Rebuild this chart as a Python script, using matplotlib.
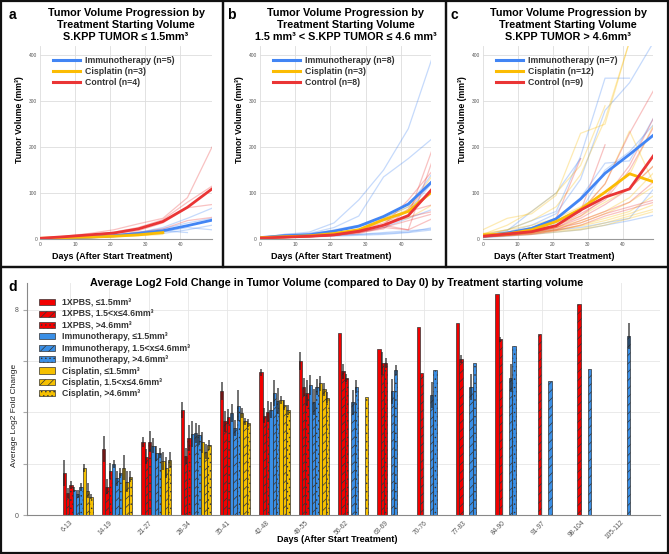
import numpy as np
import matplotlib
matplotlib.use("Agg")
import matplotlib.pyplot as plt
from matplotlib.patches import Rectangle, Patch
from matplotlib.lines import Line2D

nan = np.nan
plt.rcParams['font.family'] = ['Liberation Sans', 'DejaVu Sans']
plt.rcParams['hatch.linewidth'] = 0.5

# === Top panels: tumour volume per mouse (mm3) ===
days = [0, 7, 14, 21, 28, 35, 42, 49]

a_blue_lines = [[1, 2, 4, 8, 14, 25, 45, 67], [1, 2, 5, 9, 15, 22, 35, 45],
                [1, 1, 3, 5, 8, 12, 20, 30], [1, 2, 4, 7, 12, 18, 14, nan],
                [1, 2, 3, 6, 10, 15, 25, 20]]
a_yellow_lines = [[1, 3, 5, 8, 12, 18, nan, nan], [2, 3, 4, 6, 9, 15, nan, nan],
                  [1, 2, 3, 5, 7, 10, nan, nan]]
a_red_lines = [[1, 6, 12, 20, 33, 45, 90, 200], [1, 5, 9, 15, 25, 42, 80, 115],
               [2, 5, 8, 12, 18, 35, 68, 75], [1, 3, 6, 9, 14, 22, 40, 47]]
a_blue_mean = [1, 2, 4, 7, 12, 18, 29, 41]
a_yellow_mean = [1.5, 3, 4, 6, 9, 14, nan, nan]
a_red_mean = [1.5, 5, 9, 13, 22, 38, 69, 109]

b_blue_lines = [[3, 10, 15, 35, 85, 150, 240, 400], [3, 10, 12, 25, 50, 135, 175, 220],
                [2, 8, 10, 20, 30, 45, 70, 145], [3, 8, 12, 18, 28, 40, 60, 125],
                [2, 5, 8, 12, 15, 25, 45, 65], [2, 4, 6, 8, 10, 12, 15, 25],
                [2, 3, 5, 6, 8, 10, 14, 20], [3, 5, 6, 8, 10, 14, 18, 22]]
b_yellow_lines = [[3, 5, 8, 12, 20, 40, 65, 140], [2, 5, 7, 12, 22, 45, 70, 100],
                  [3, 5, 6, 10, 18, 40, 45, 75]]
b_red_lines = [[2, 4, 6, 9, 18, 30, 50, 200], [2, 3, 5, 8, 15, 25, 20, 175],
               [1, 3, 5, 8, 15, 30, 85, 150], [2, 4, 6, 10, 20, 35, 60, 75],
               [2, 3, 5, 8, 14, 28, 48, 60], [1, 3, 4, 7, 12, 25, 40, 55],
               [2, 4, 6, 9, 16, 30, 20, 45], [1, 3, 5, 8, 14, 22, 65, 130]]
b_blue_mean = [3, 7, 9, 17, 28, 49, 76, 127]
b_yellow_mean = [3, 5, 7, 12, 20, 42, 60, 105]
b_red_mean = [2, 4, 6, 9, 17, 30, 51, 111]

c_blue_lines = [[8, 20, 40, 60, 180, 350, 350, nan], [6, 15, 30, 55, 130, 280, 340, 430],
                [5, 18, 60, 100, 175, nan, nan, nan], [6, 12, 25, 45, 90, 165, 170, 265],
                [5, 10, 20, 35, 60, 150, 190, 250], [4, 8, 14, 20, 25, 35, 45, 110],
                [3, 6, 10, 15, 20, 30, 40, 52]]
c_yellow_lines = [[20, 45, 55, 95, 230, 250, 430, nan], [10, 30, 60, 100, 160, 290, nan, nan],
                  [12, 20, 40, 70, 140, 260, 430, nan], [8, 15, 25, 40, 60, 120, 235, 120],
                  [10, 20, 30, 45, 70, 100, 140, 250], [6, 12, 20, 30, 50, 80, 110, 160],
                  [8, 10, 15, 25, 40, 60, 90, 145], [5, 10, 15, 25, 35, 55, 80, 115],
                  [5, 8, 12, 20, 30, 45, 60, 95], [6, 10, 14, 20, 28, 40, 55, 75],
                  [4, 8, 12, 18, 22, 35, 50, 65], [5, 7, 10, 15, 20, 30, 45, 60]]
c_red_lines = [[5, 12, 20, 30, 60, 205, nan, nan], [6, 10, 18, 30, 60, 120, 230, 325],
               [5, 9, 15, 25, 50, 90, 160, 265], [7, 12, 18, 28, 55, 85, 150, 245],
               [4, 8, 14, 25, 45, 75, 110, 160], [5, 8, 12, 20, 40, 60, 80, 125],
               [6, 10, 15, 22, 35, 55, 70, 85], [4, 7, 10, 18, 30, 50, 65, 80],
               [6, 10, 20, 45, 175, nan, nan, nan]]
c_blue_mean = [6, 13, 23, 44, 87, 143, 184, 227]
c_yellow_mean = [9, 11, 20, 38, 65, 102, 142, 124]
c_red_mean = [6, 11, 16, 29, 63, 91, 109, 183]

panels = [
    ("a", "S.KPP TUMOR ≤ 1.5mm³", (5, 3, 4),
     a_blue_lines, a_yellow_lines, a_red_lines, a_blue_mean, a_yellow_mean, a_red_mean),
    ("b", "1.5 mm³ < S.KPP TUMOR ≤ 4.6 mm³", (8, 3, 8),
     b_blue_lines, b_yellow_lines, b_red_lines, b_blue_mean, b_yellow_mean, b_red_mean),
    ("c", "S.KPP TUMOR > 4.6mm³", (7, 12, 9),
     c_blue_lines, c_yellow_lines, c_red_lines, c_blue_mean, c_yellow_mean, c_red_mean),
]

# === Bottom panel: average log2 fold change ===
groups = ["6-13", "14-19", "21-27", "28-34", "35-41", "42-48", "49-55", "56-62",
          "63-69", "70-76", "77-83", "84-90", "91-97", "98-104", "105-112"]
bar_labels = ["1XPBS, ≤1.5mm³", "1XPBS, 1.5<x≤4.6mm³", "1XPBS, >4.6mm³",
              "Immunotherapy, ≤1.5mm³", "Immunotherapy, 1.5<x≤4.6mm³", "Immunotherapy, >4.6mm³",
              "Cisplatin, ≤1.5mm³", "Cisplatin, 1.5<x≤4.6mm³", "Cisplatin, >4.6mm³"]
pbs_lo = [1.65, 2.58, 2.86, 4.1, 4.82, 5.56, 6.02, 7.1, 6.48, 7.33, 7.49, 8.62, nan, nan, nan]
pbs_mid = [0.86, 1.1, 2.27, 2.3, 3.65, 3.88, 5.0, 5.6, 5.92, 5.53, 6.09, 6.86, 7.07, 8.23, nan]
pbs_hi = [1.17, 1.72, 2.86, 3.0, 3.84, 4.03, 4.75, 5.34, 5.92, nan, nan, nan, nan, nan, nan]
imm_lo = [0.99, 1.98, 2.7, 3.15, 3.97, 4.1, 5.07, nan, nan, nan, nan, nan, nan, nan, nan]
imm_mid = [0.83, 1.43, 2.41, 3.19, 3.39, 4.75, 4.4, 4.39, 4.82, 4.69, 4.99, 5.34, 5.21, 5.69, 6.99]
imm_hi = [1.09, 1.63, 2.43, 3.12, 4.26, 4.45, 5.0, 5.01, 5.66, 5.66, 5.92, 6.6, nan, nan, nan]
cis_lo = [1.82, 1.85, 2.1, 2.83, 3.97, 4.49, 5.14, nan, nan, nan, nan, nan, nan, nan, nan]
cis_mid = [0.95, 1.3, 1.85, 2.47, 3.65, 4.3, 4.91, nan, nan, nan, nan, nan, nan, nan, nan]
cis_hi = [0.71, 1.5, 2.15, 2.73, 3.6, 4.1, 4.58, 4.62, nan, nan, nan, nan, nan, nan, nan]

pbs_lo_err = [0.5, 0.5, 0.2, 0.3, 0.35, 0.15, 0.35, 0, 0, 0, 0, 0, 0, 0, 0]
pbs_mid_err = [0.2, 0.3, 0.3, 0.3, 0.4, 0.3, 0.35, 0.3, 0.45, 0, 0.15, 0.1, 0, 0, 0]
pbs_hi_err = [0.15, 0.3, 0.4, 0.5, 0.3, 0.4, 0.5, 0.15, 0.2, 0, 0, 0, 0, 0, 0]
imm_lo_err = [0.1, 0.15, 0.3, 0.5, 0.35, 0.3, 0.4, 0, 0, 0, 0, 0, 0, 0, 0]
imm_mid_err = [0.15, 0.3, 0.3, 0.4, 0.3, 0.5, 0.5, 0.5, 0.5, 0.5, 0.5, 0.55, 0, 0, 0.5]
imm_hi_err = [0.15, 0.2, 0.2, 0.4, 0.6, 0.5, 0.3, 0.25, 0.2, 0, 0, 0, 0, 0, 0]
cis_lo_err = [0.15, 0.5, 0.35, 0.4, 0.2, 0.15, 0.3, 0, 0, 0, 0, 0, 0, 0, 0]
cis_mid_err = [0.3, 0.4, 0.4, 0.3, 0.15, 0.2, 0.25, 0, 0, 0, 0, 0, 0, 0, 0]
cis_hi_err = [0.1, 0.2, 0.3, 0.2, 0.15, 0.2, 0.2, 0, 0, 0, 0, 0, 0, 0, 0]

bar_values = [pbs_lo, pbs_mid, pbs_hi, imm_lo, imm_mid, imm_hi, cis_lo, cis_mid, cis_hi]
bar_errors = [pbs_lo_err, pbs_mid_err, pbs_hi_err, imm_lo_err, imm_mid_err, imm_hi_err,
              cis_lo_err, cis_mid_err, cis_hi_err]

LINE_BLUE, LINE_YELLOW, LINE_RED = "#4285f4", "#fbbc04", "#ea3535"
BAR_RED, BAR_BLUE, BAR_YELLOW = "#f20000", "#3a8fe6", "#f5c000"
bar_colors = [BAR_RED] * 3 + [BAR_BLUE] * 3 + [BAR_YELLOW] * 3
bar_hatches = ["", "////", "...."] * 3

fig = plt.figure(figsize=(6.69, 5.54), dpi=100)
W, H = 669, 554

def fx(px):
    return px / W

def fy(py):
    return 1 - py / H

# panel borders
for x0, y0, x1, y1 in [(1, 1, 223, 267), (223, 1, 446, 267), (446, 1, 668, 267), (1, 267, 668, 553)]:
    fig.add_artist(Rectangle((fx(x0), fy(y1)), fx(x1 - x0), (y1 - y0) / H, transform=fig.transFigure,
                             fill=False, edgecolor="#111111", linewidth=1.6))

axes_left = [40, 259.7, 482.7]
axes_right = [212, 431.3, 653.3]
xmax = [49, 48.5, 48.8]
for i, (letter, sub, ns, bl, yl, rl, bm, ym, rm) in enumerate(panels):
    ax = fig.add_axes([fx(axes_left[i]), fy(239), fx(axes_right[i] - axes_left[i]), 193 / H])
    for line in bl:
        ax.plot(days, line, color=LINE_BLUE, alpha=0.3, linewidth=0.9)
    for line in yl:
        ax.plot(days, line, color=LINE_YELLOW, alpha=0.3, linewidth=0.9)
    for line in rl:
        ax.plot(days, line, color=LINE_RED, alpha=0.3, linewidth=0.9)
    ax.plot(days, bm, color=LINE_BLUE, linewidth=2.0)
    ax.plot(days, ym, color=LINE_YELLOW, linewidth=2.0)
    ax.plot(days, rm, color=LINE_RED, linewidth=2.0)
    ax.set_xlim(0, xmax[i])
    ax.set_ylim(0, 420)
    ax.set_xticks([0, 10, 20, 30, 40])
    ax.set_yticks([0, 100, 200, 300, 400])
    ax.tick_params(labelsize=3.5, labelcolor="#555555", length=0, pad=2)
    ax.grid(True, color="#dddddd", linewidth=0.6)
    ax.set_axisbelow(True)
    for s in ["top", "right", "left"]:
        ax.spines[s].set_visible(False)
    ax.spines["bottom"].set_color("#999999")
    ax.spines["bottom"].set_linewidth(0.8)
    handles = [Line2D([], [], color=LINE_BLUE, linewidth=2.2),
               Line2D([], [], color=LINE_YELLOW, linewidth=2.2),
               Line2D([], [], color=LINE_RED, linewidth=2.2)]
    names = [f"Immunotherapy (n={ns[0]})", f"Cisplatin (n={ns[1]})", f"Control (n={ns[2]})"]
    leg = ax.legend(handles, names, loc="upper left", bbox_to_anchor=(0.04, 0.98), frameon=False,
                    prop={"size": 6.3, "weight": "bold"}, handlelength=3.1, handletextpad=0.6,
                    labelspacing=0.25, borderpad=0.2)
    for t in leg.get_texts():
        t.set_color("#333333")
    cx = (axes_left[i] + axes_right[i]) / 2
    fig.text(fx(cx), fy(8), "Tumor Volume Progression by\nTreatment Starting Volume\n" + sub,
             ha="center", va="top", fontsize=7.8, fontweight="bold", linespacing=1.22)
    fig.text(fx(axes_left[i] - 20), fy(120), "Tumor Volume (mm³)", rotation=90, ha="center",
             va="center", fontsize=6.3, fontweight="bold")
    fig.text(fx(cx - 14), fy(257), "Days (After Start Treatment)", ha="center", va="center",
             fontsize=6.5, fontweight="bold")
    fig.text(fx(axes_left[i] - 28), fy(15), letter, ha="center", va="center", fontsize=10,
             fontweight="bold")

# === Panel d ===
axd = fig.add_axes([fx(27), fy(515), fx(633), 232 / H])
x = np.arange(len(groups))
w = 0.085
for k in range(9):
    pos = x + 0.2 + (k - 4) * w
    axd.bar(pos, bar_values[k], width=w, color=bar_colors[k], edgecolor="#333333", linewidth=0.5,
            hatch=bar_hatches[k], yerr=bar_errors[k],
            error_kw={"ecolor": "#222222", "elinewidth": 1.2, "alpha": 0.75, "capsize": 0},
            label=bar_labels[k])
axd.set_xlim(-1.09, 15.0)
axd.set_ylim(0, 9.05)
axd.set_yticks([0, 2, 4, 6, 8])
axd.set_yticklabels(["0", "", "", "", "8"])
axd.set_xticks(x)
axd.set_xticklabels(groups, rotation=45, ha="right", rotation_mode="anchor")
axd.tick_params(axis="x", labelsize=4.8, labelcolor="#555555", length=0, pad=3)
axd.tick_params(axis="y", labelsize=5, labelcolor="#555555", length=3, color="#aaaaaa", pad=3)
axd.grid(True, color="#e6e6e6", linewidth=0.6)
axd.set_axisbelow(True)
for s in ["top", "right"]:
    axd.spines[s].set_visible(False)
for s in ["left", "bottom"]:
    axd.spines[s].set_color("#888888")
    axd.spines[s].set_linewidth(0.8)

leg_handles = [Patch(facecolor=bar_colors[k], edgecolor="#333333", hatch=bar_hatches[k], linewidth=0.5)
               for k in range(9)]
legd = axd.legend(leg_handles, bar_labels, loc="upper left", bbox_to_anchor=(0.01, 0.96), frameon=False,
                  prop={"size": 6.3, "weight": "bold"}, handlelength=1.8, handleheight=0.7,
                  handletextpad=0.8, labelspacing=0.27, borderpad=0.2)
for t in legd.get_texts():
    t.set_color("#333333")

fig.text(fx(337), fy(283), "Average Log2 Fold Change in Tumor Volume (compared to Day 0) by Treatment starting volume",
         ha="center", va="center", fontsize=7.8, fontweight="bold")
fig.text(fx(337), fy(540), "Days (After Start Treatment)", ha="center", va="center",
         fontsize=6.5, fontweight="bold")
fig.text(fx(15), fy(415), "Average Log2 Fold Change", rotation=90, ha="center", va="center",
         fontsize=6, color="#222222")
fig.text(fx(13), fy(287), "d", ha="center", va="center", fontsize=10, fontweight="bold")

fig.savefig("out.png", dpi=100)
